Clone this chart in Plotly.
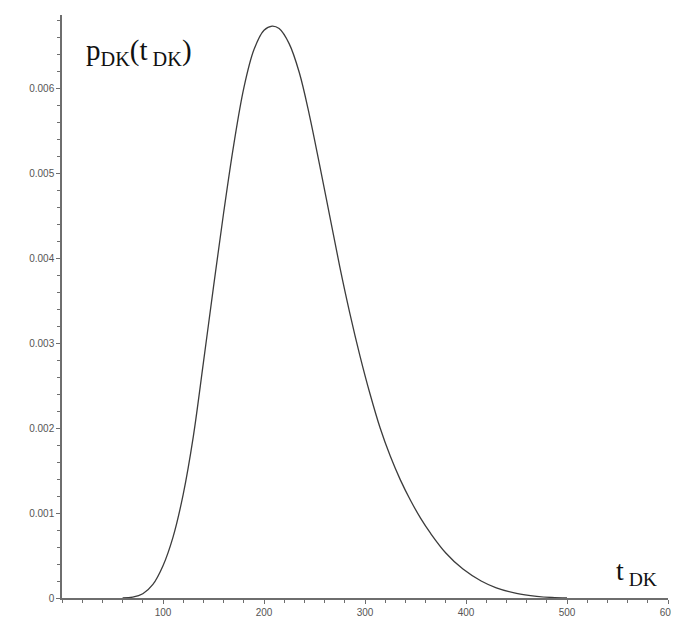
import plotly.graph_objects as go

# Data (p values in units of 1e-3)
t_dk = [60, 70, 80, 90, 100, 110, 120, 130, 140, 150, 160, 170, 180, 190, 200, 208,
        215, 225, 235, 245, 255, 265, 275, 285, 295, 305, 315, 325, 335, 345, 355,
        365, 380, 397, 415, 430, 450, 470, 485, 500]
p_dk_milli = [0.0, 0.01, 0.05, 0.16, 0.38, 0.72, 1.22, 1.90, 2.77, 3.66, 4.53, 5.33,
              6.00, 6.45, 6.68, 6.73, 6.70, 6.52, 6.18, 5.68, 5.10, 4.50, 3.90, 3.35,
              2.85, 2.40, 2.00, 1.67, 1.39, 1.15, 0.94, 0.76, 0.53, 0.34, 0.20, 0.12,
              0.055, 0.02, 0.006, 0.0]
p_dk = [v * 1e-3 for v in p_dk_milli]

x_ticks = [100, 200, 300, 400, 500, 600]
y_ticks = [0, 0.001, 0.002, 0.003, 0.004, 0.005, 0.006]
y_tick_text = ["0", "0.001", "0.002", "0.003", "0.004", "0.005", "0.006"]

fig = go.Figure()
fig.add_trace(go.Scatter(x=t_dk, y=p_dk, mode="lines",
                         line=dict(color="#3c3c3c", width=1.3, shape="spline", smoothing=1.0),
                         showlegend=False, hoverinfo="skip"))

axis_col = "#6e6e6e"
tick_font = dict(family="Liberation Sans, Arial", size=10, color="#555555")
fig.update_layout(
    width=671, height=609,
    margin=dict(l=54, r=11, t=7, b=19),
    paper_bgcolor="white", plot_bgcolor="white",
    font=dict(family="Liberation Sans, Arial", color="#555555", size=10),
    xaxis=dict(range=[0, 600], tickvals=x_ticks, ticktext=[str(v) for v in x_ticks],
               automargin=False,
               showgrid=False, zeroline=False, showline=True, linecolor=axis_col, linewidth=1.5,
               ticks="outside", ticklen=4, tickcolor=axis_col, tickwidth=1,
               minor=dict(dtick=20, ticks="outside", ticklen=3, tickcolor=axis_col, tickwidth=1, showgrid=False),
               tickfont=tick_font),
    yaxis=dict(range=[0, 0.00686], tickvals=y_ticks, ticktext=y_tick_text,
               automargin=False,
               showgrid=False, zeroline=False, showline=True, linecolor=axis_col, linewidth=1.5,
               ticks="outside", ticklen=4, tickcolor=axis_col, tickwidth=1,
               minor=dict(dtick=0.0002, ticks="outside", ticklen=3, tickcolor=axis_col, tickwidth=1, showgrid=False),
               tickfont=tick_font),
)

fig.add_annotation(x=22, y=0.00643, xref="x", yref="y", xanchor="left", yanchor="middle",
                   text="p<sub>DK</sub>(t<sub> DK</sub>)", showarrow=False,
                   font=dict(family="Liberation Serif, Times New Roman", size=29, color="#111111"))
fig.add_annotation(x=547, y=0.00030, xref="x", yref="y", xanchor="left", yanchor="middle",
                   text="t<sub> DK</sub>", showarrow=False,
                   font=dict(family="Liberation Serif, Times New Roman", size=28, color="#111111"))

fig.write_html("out.html")
